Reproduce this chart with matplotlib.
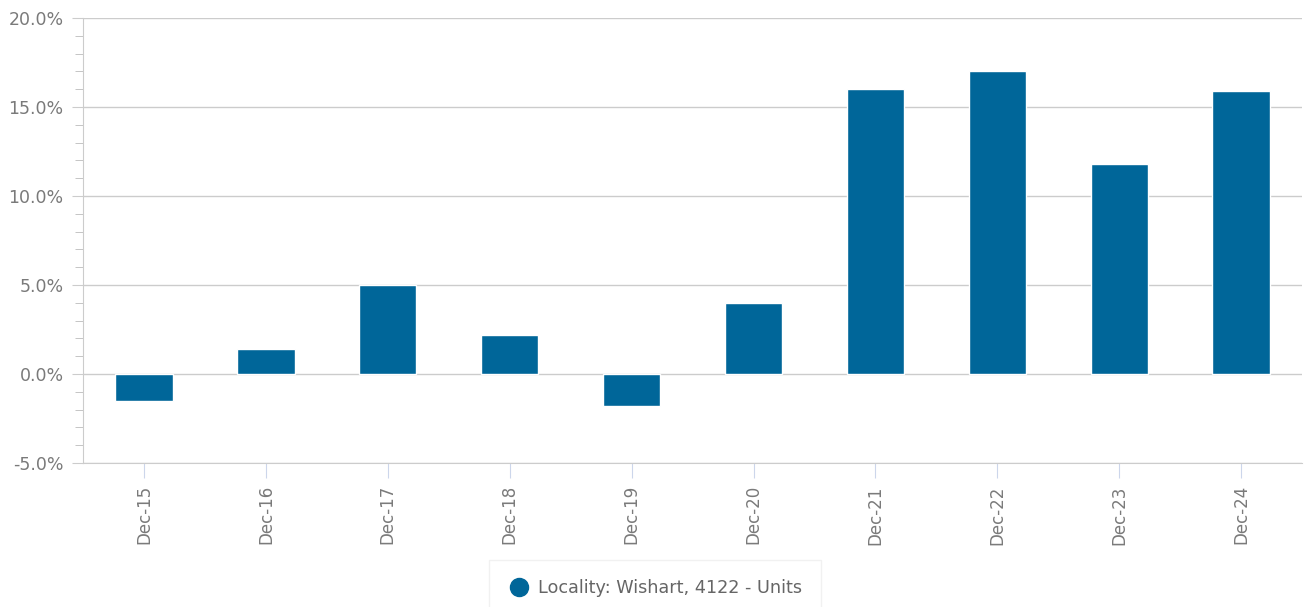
import matplotlib.pyplot as plt
from matplotlib.ticker import MultipleLocator, FuncFormatter
from matplotlib.lines import Line2D

# Chart data
categories = ["Dec-15", "Dec-16", "Dec-17", "Dec-18", "Dec-19",
              "Dec-20", "Dec-21", "Dec-22", "Dec-23", "Dec-24"]
growth = [-1.5, 1.4, 5.0, 2.2, -1.8, 4.0, 16.0, 17.0, 11.8, 15.9]
series_name = "Locality: Wishart, 4122 - Units"

bar_color = "#006699"
grid_color = "#cccccc"
text_color = "#7a7a7a"

fig = plt.figure(figsize=(13.06, 6.07), dpi=100)
ax = fig.add_axes([0.0636, 0.2372, 0.9334, 0.7331])

x = range(len(categories))
ax.bar(x, growth, width=0.47, color=bar_color, edgecolor="white", linewidth=1, zorder=3)

ax.set_xlim(-0.5, len(categories) - 0.5)
ax.set_ylim(-5, 20)
ax.yaxis.set_major_locator(MultipleLocator(5))
ax.yaxis.set_minor_locator(MultipleLocator(1))
ax.yaxis.set_major_formatter(FuncFormatter(lambda v, p: f"{v:.1f}%"))
ax.grid(axis="y", which="major", color=grid_color, linewidth=1, zorder=0)

ax.set_xticks(list(x))
ax.set_xticklabels(categories, rotation=90)

for side in ["top", "right"]:
    ax.spines[side].set_visible(False)
ax.spines["left"].set_color(grid_color)
ax.spines["bottom"].set_color(grid_color)

ax.tick_params(axis="y", which="major", length=8, color=grid_color, labelcolor=text_color,
               labelsize=12.5, pad=6)
ax.tick_params(axis="y", which="minor", length=6, color="#bbbbbb")
ax.tick_params(axis="x", length=11, color="#ccd6eb", labelcolor=text_color,
               labelsize=12, pad=5)

handle = Line2D([], [], marker="o", linestyle="none", markersize=13,
                markerfacecolor=bar_color, markeredgecolor=bar_color)
leg = fig.legend([handle], [series_name], loc="upper center", bbox_to_anchor=(0.5015, 0.0775),
                 frameon=True, fancybox=False, fontsize=12.7, handlelength=1.2,
                 handletextpad=0.5, borderpad=1.1, borderaxespad=0, labelcolor="#666666")
leg.get_frame().set_edgecolor("#eeeeee")
leg.get_frame().set_linewidth(1)

fig.savefig("out.png", dpi=100)
